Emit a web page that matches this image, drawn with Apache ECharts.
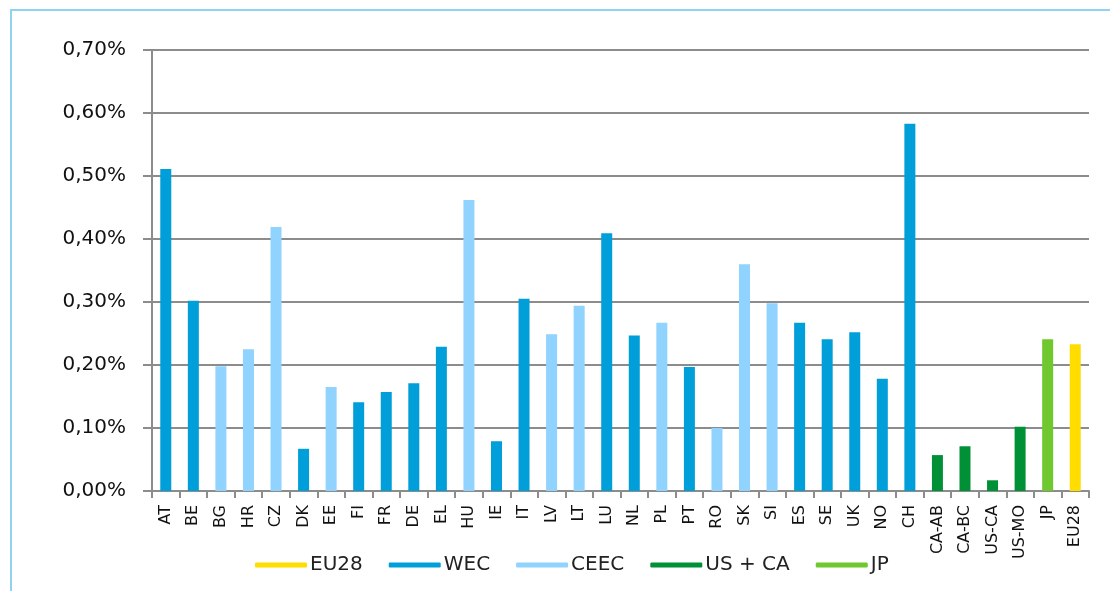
<!DOCTYPE html>
<html>
<head>
<meta charset="utf-8">
<script src="https://cdn.jsdelivr.net/npm/echarts@6/dist/echarts.min.js"></script>
<style>
  html, body { margin: 0; padding: 0; background: #fff; }
  #chart { width: 1110px; height: 591px; }
</style>
</head>
<body>
<div id="chart"></div>
<script>
const categories = ['AT', 'BE', 'BG', 'HR', 'CZ', 'DK', 'EE', 'FI', 'FR', 'DE', 'EL', 'HU', 'IE', 'IT',
  'LV', 'LT', 'LU', 'NL', 'PL', 'PT', 'RO', 'SK', 'SI', 'ES', 'SE', 'UK', 'NO', 'CH',
  'CA-AB', 'CA-BC', 'US-CA', 'US-MO', 'JP', 'EU28']
const values = [0.511, 0.302, 0.198, 0.225, 0.419, 0.067, 0.165, 0.141, 0.157, 0.171, 0.229, 0.462, 0.079, 0.305,
  0.249, 0.294, 0.409, 0.247, 0.267, 0.197, 0.100, 0.360, 0.298, 0.267, 0.241, 0.252, 0.178, 0.583,
  0.057, 0.071, 0.017, 0.102, 0.241, 0.233]
const groups = ['WEC', 'WEC', 'CEEC', 'CEEC', 'CEEC', 'WEC', 'CEEC', 'WEC', 'WEC', 'WEC', 'WEC', 'CEEC', 'WEC', 'WEC',
  'CEEC', 'CEEC', 'WEC', 'WEC', 'CEEC', 'WEC', 'CEEC', 'CEEC', 'CEEC', 'WEC', 'WEC', 'WEC', 'WEC', 'WEC',
  'US + CA', 'US + CA', 'US + CA', 'US + CA', 'JP', 'EU28']
const legendNames = ['EU28', 'WEC', 'CEEC', 'US + CA', 'JP']
const groupColors = {
  'EU28': '#ffdd00',
  'WEC': '#009fda',
  'CEEC': '#8fd3fe',
  'US + CA': '#009036',
  'JP': '#70c82f'
}
const yTicks = { min: 0, max: 0.7, interval: 0.1 }

const chart = echarts.init(document.getElementById('chart'))
const font = 'DejaVu Sans'
const axisGray = '#8c8c8c'

const series = legendNames.map(name => ({
  name,
  type: 'bar',
  barWidth: 11,
  barGap: '-100%',
  itemStyle: { color: groupColors[name] },
  data: values.map((v, i) => (groups[i] === name ? v : null))
}))

chart.setOption({
  animation: false,
  textStyle: { fontFamily: font },
  graphic: [{
    type: 'polyline',
    shape: { points: [[11, 591], [11, 10], [1110, 10]] },
    style: { stroke: '#8fd3f0', lineWidth: 2, fill: null }
  }],
  grid: { left: 152, right: 21, top: 50, bottom: 100 },
  legend: {
    data: legendNames,
    left: 250,
    top: 550,
    icon: 'roundRect',
    itemWidth: 52,
    itemHeight: 5,
    itemGap: 26,
    textStyle: { fontFamily: font, fontSize: 20, color: '#222', padding: [0, 0, 0, -2] }
  },
  xAxis: {
    type: 'category',
    data: categories,
    axisLine: { lineStyle: { color: axisGray, width: 2 } },
    axisTick: { show: true, length: 7, lineStyle: { color: axisGray, width: 2 } },
    axisLabel: { rotate: 90, interval: 0, margin: 14, fontSize: 16, color: '#111', fontFamily: font }
  },
  yAxis: {
    type: 'value',
    min: yTicks.min,
    max: yTicks.max,
    interval: yTicks.interval,
    axisLine: { show: true, lineStyle: { color: axisGray, width: 2 } },
    axisTick: { show: true, length: 9, lineStyle: { color: axisGray, width: 2 } },
    splitLine: { lineStyle: { color: axisGray, width: 2 } },
    axisLabel: {
      margin: 26,
      fontSize: 20,
      color: '#111',
      fontFamily: font,
      formatter: v => v.toFixed(2).replace('.', ',') + '%'
    }
  },
  series
})
</script>
</body>
</html>
